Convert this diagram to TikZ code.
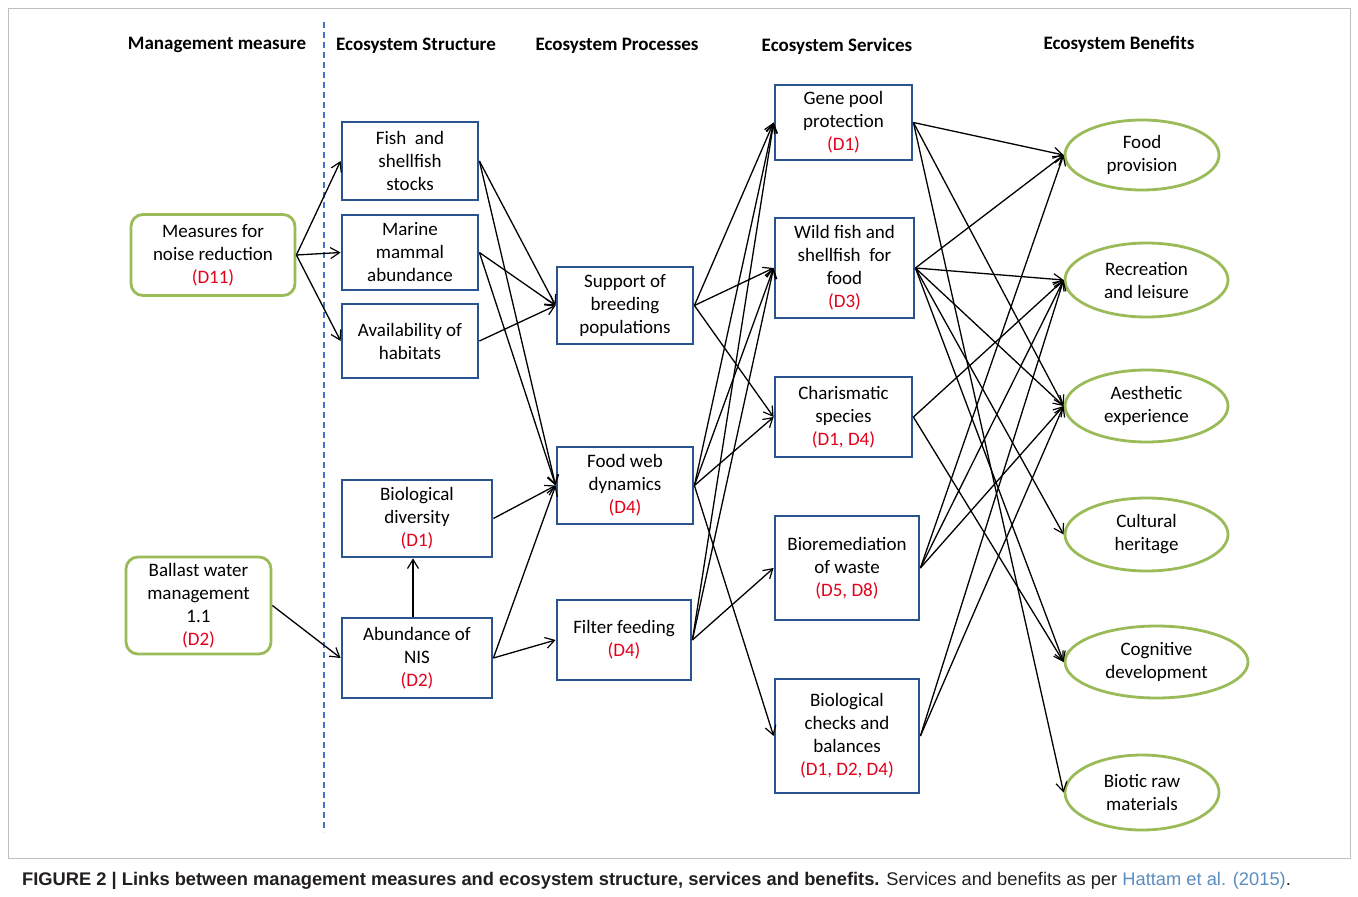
\documentclass[tikz,border=0pt]{standalone}
\usepackage{fontspec}
\setmainfont{Carlito}
\newfontfamily\capfont{Liberation Sans}
\usetikzlibrary{arrows.meta,shapes.geometric}
\definecolor{boxblue}{HTML}{2A5490}
\definecolor{mgreen}{HTML}{9BBB59}
\definecolor{dred}{HTML}{E3001B}
\definecolor{linkblue}{HTML}{5B8DC0}
\definecolor{capgray}{HTML}{231F20}
\definecolor{dashblue}{HTML}{4472C4}
\begin{document}
\begin{tikzpicture}[x=1pt,y=-1pt,
  txt/.style={font=\fontsize{19}{23}\selectfont, align=center},
  sbox/.style={txt, draw=boxblue, line width=2.8pt, inner sep=0pt},
  mbox/.style={txt, draw=mgreen, line width=2.8pt, rounded corners=12pt, inner sep=0pt},
  ebox/.style={txt, ellipse, draw=mgreen, line width=2.8pt, inner sep=0pt},
  hdr/.style={font=\fontsize{19}{22}\selectfont\bfseries},
  link/.style={draw=black, line width=1.3pt, -{Straight Barb[length=9pt,width=11pt,line width=1.2pt]}},
]
\useasboundingbox (0,0) rectangle (1358,897);
\fill[white] (0,0) rectangle (1358,897);
\draw[black!25, line width=1pt] (8,8) rectangle (1350,858);

% headers
\node[hdr] (h1) at (217,45) {Management measure};
\node[hdr] (h2) at (416,46) {Ecosystem Structure};
\node[hdr] (h3) at (617,46) {Ecosystem Processes};
\node[hdr] (h4) at (837,46) {Ecosystem Services};
\node[hdr] (h5) at (1119,44) {Ecosystem Benefits};

% dashed separator
\coordinate (dtop) at (324,22);
\coordinate (dbot) at (324,832);
\draw[dashblue, line width=1.2pt, dash pattern=on 6pt off 4pt] (dtop) -- (dbot);

% management measures
\node[mbox, minimum width=164pt, minimum height=81pt] (noise) at (213,255) {Measures for\\noise reduction\\\textcolor{dred}{(D11)}};
\node[mbox, minimum width=145pt, minimum height=97pt] (ballast) at (198.5,605.5) {Ballast water\\management\\1.1\\\textcolor{dred}{(D2)}};

% structure
\node[sbox, minimum width=136pt, minimum height=78pt] (fish) at (410,161) {Fish\ \ and\\shellfish\\stocks};
\node[sbox, minimum width=136pt, minimum height=75pt] (mammal) at (410,252.5) {Marine\\mammal\\abundance};
\node[sbox, minimum width=136pt, minimum height=74pt] (habitat) at (410,341) {Availability of\\habitats};
\node[sbox, minimum width=150pt, minimum height=77pt] (biodiv) at (417,518.5) {Biological\\diversity\\\textcolor{dred}{(D1)}};
\node[sbox, minimum width=150pt, minimum height=80pt] (nis) at (417,658) {Abundance of\\NIS\\\textcolor{dred}{(D2)}};

% processes
\node[sbox, minimum width=136pt, minimum height=77pt] (support) at (625,305.5) {Support of\\breeding\\populations};
\node[sbox, minimum width=136pt, minimum height=77pt] (foodweb) at (625,485.5) {Food web\\dynamics\\\textcolor{dred}{(D4)}};
\node[sbox, minimum width=134pt, minimum height=80pt] (filter) at (624,640) {Filter feeding\\\textcolor{dred}{(D4)}};

% services
\node[sbox, minimum width=137pt, minimum height=75pt] (gene) at (843.5,122.5) {Gene pool\\protection\\\textcolor{dred}{(D1)}};
\node[sbox, minimum width=139pt, minimum height=100pt] (wild) at (844.5,268) {Wild fish and\\shellfish\ \ for\\food\\\textcolor{dred}{(D3)}};
\node[sbox, minimum width=137pt, minimum height=80pt] (charis) at (843.5,417) {Charismatic\\species\\\textcolor{dred}{(D1, D4)}};
\node[sbox, minimum width=144pt, minimum height=104pt] (biorem) at (847,568) {Bioremediation\\of waste\\\textcolor{dred}{(D5, D8)}};
\node[sbox, minimum width=144pt, minimum height=114pt] (checks) at (847,736) {Biological\\checks and\\balances\\\textcolor{dred}{(D1, D2, D4)}};

% benefits
\node[ebox, minimum width=154pt, minimum height=70pt] (food) at (1142,155) {Food\\provision};
\node[ebox, minimum width=163pt, minimum height=74pt] (recr) at (1146.5,280) {Recreation\\and leisure};
\node[ebox, minimum width=163pt, minimum height=72pt] (aest) at (1146.5,406) {Aesthetic\\experience};
\node[ebox, minimum width=163pt, minimum height=73pt] (cult) at (1146.5,534.5) {Cultural\\heritage};
\node[ebox, minimum width=183pt, minimum height=72pt] (cogn) at (1156.5,662) {Cognitive\\development};
\node[ebox, minimum width=154pt, minimum height=75pt] (biotic) at (1142,792.5) {Biotic raw\\materials};

% management -> structure
\draw[link] (noise.east) -- (fish.west);
\draw[link] (noise.east) -- (mammal.west);
\draw[link] (noise.east) -- (habitat.west);
\draw[link] (ballast.east) -- (nis.west);
\draw[link] ([xshift=-4pt]nis.north) -- ([xshift=-4pt]biodiv.south);

% structure -> processes
\draw[link] (fish.east) -- (support.west);
\draw[link] (fish.east) -- (foodweb.west);
\draw[link] (mammal.east) -- (support.west);
\draw[link] (mammal.east) -- (foodweb.west);
\draw[link] (habitat.east) -- (support.west);
\draw[link] (biodiv.east) -- (foodweb.west);
\draw[link] (nis.east) -- (foodweb.west);
\draw[link] (nis.east) -- (filter.west);

% processes -> services
\draw[link] (support.east) -- (gene.west);
\draw[link] (support.east) -- (wild.west);
\draw[link] (support.east) -- (charis.west);
\draw[link] (foodweb.east) -- (gene.west);
\draw[link] (foodweb.east) -- (wild.west);
\draw[link] (foodweb.east) -- (charis.west);
\draw[link] (foodweb.east) -- (checks.west);
\draw[link] (filter.east) -- (gene.west);
\draw[link] (filter.east) -- (wild.west);
\draw[link] (filter.east) -- (biorem.west);

% services -> benefits
\draw[link] (gene.east) -- (food.west);
\draw[link] (gene.east) -- (aest.west);
\draw[link] (gene.east) -- (biotic.west);
\draw[link] (wild.east) -- (food.west);
\draw[link] (wild.east) -- (recr.west);
\draw[link] (wild.east) -- (aest.west);
\draw[link] (wild.east) -- (cult.west);
\draw[link] (wild.east) -- (cogn.west);
\draw[link] (charis.east) -- (recr.west);
\draw[link] (charis.east) -- (cogn.west);
\draw[link] (biorem.east) -- (food.west);
\draw[link] (biorem.east) -- (recr.west);
\draw[link] (biorem.east) -- (aest.west);
\draw[link] (checks.east) -- (recr.west);
\draw[link] (checks.east) -- (aest.west);

% caption
\node[anchor=base west, inner sep=0pt, font=\capfont\fontsize{18.3}{21}\selectfont, text=capgray] (cap) at (22,885)
  {\textbf{FIGURE 2 | Links between management measures and ecosystem structure, services and benefits.} Services and benefits as per \textcolor{linkblue}{Hattam et al. (2015)}.};
\end{tikzpicture}
\end{document}
